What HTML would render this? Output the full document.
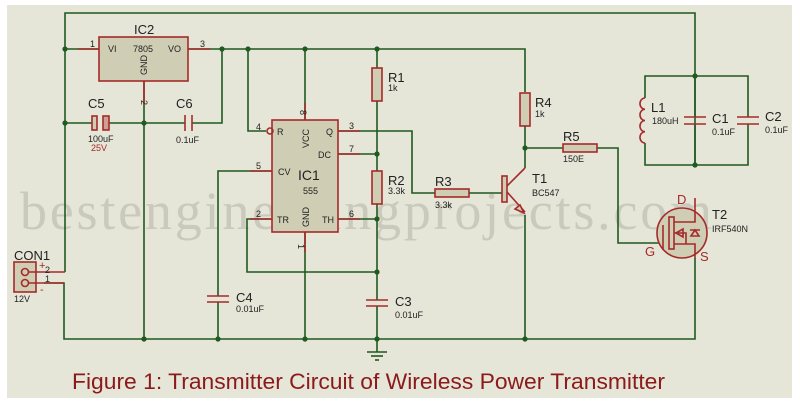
<!DOCTYPE html>
<html><head><meta charset="utf-8"><style>
html,body{margin:0;padding:0;background:#fff;}
svg{display:block;}
text{font-family:"Liberation Sans",sans-serif;}
</style></head><body>
<svg width="800" height="410" viewBox="0 0 800 410" xmlns="http://www.w3.org/2000/svg">
<rect x="7" y="5" width="785" height="393" fill="#e5e5d8"/>
<text x="20" y="229" font-size="54" fill="#c9c9bc" style="font-family:'Liberation Serif',serif" textLength="692" lengthAdjust="spacing">bestengineeringprojects.com</text>
<g stroke="#1f5a1f" stroke-width="1.6" fill="none">
<polyline points="65,272 65,13 695,13 695,165"/>
<polyline points="44,283 64,283 64,339 695,339 695,258"/>
<line x1="65" y1="49" x2="99" y2="49"/>
<polyline points="188,49 525,49 525,92"/>
<line x1="144" y1="81" x2="144" y2="339"/>
<line x1="65" y1="123" x2="92" y2="123"/>
<line x1="109" y1="123" x2="185" y2="123"/>
<polyline points="192,123 222,123 222,49"/>
<polyline points="248,49 248,131 266,131"/>
<line x1="305" y1="49" x2="305" y2="120"/>
<line x1="377" y1="49" x2="377" y2="68"/>
<line x1="377" y1="101" x2="377" y2="171"/>
<line x1="377" y1="204" x2="377" y2="300"/>
<line x1="377" y1="306" x2="377" y2="339"/>
<line x1="338" y1="154" x2="377" y2="154"/>
<line x1="338" y1="219" x2="377" y2="219"/>
<polyline points="338,131 412,131 412,193 435,193"/>
<line x1="469" y1="193" x2="502" y2="193"/>
<polyline points="272,219 247,219 247,272 377,272"/>
<polyline points="272,171 218,171 218,296"/>
<line x1="218" y1="302" x2="218" y2="339"/>
<line x1="305" y1="232" x2="305" y2="339"/>
<line x1="525" y1="126" x2="525" y2="168"/>
<line x1="525" y1="148" x2="563" y2="148"/>
<polyline points="597,148 618,148 618,243 662,243"/>
<line x1="525" y1="215" x2="525" y2="339"/>
<polyline points="645,98 645,76 748,76 748,117"/>
<polyline points="645,143 645,165 748,165 748,124"/>
<line x1="695" y1="76" x2="695" y2="117"/>
<line x1="695" y1="124" x2="695" y2="165"/>
<line x1="377" y1="339" x2="377" y2="352"/>
</g>
<g fill="#1f5a1f">
<circle cx="65" cy="49" r="2.6"/><circle cx="222" cy="49" r="2.6"/><circle cx="248" cy="49" r="2.6"/><circle cx="305" cy="49" r="2.6"/><circle cx="377" cy="49" r="2.6"/>
<circle cx="65" cy="123" r="2.6"/><circle cx="144" cy="123" r="2.6"/><circle cx="377" cy="154" r="2.6"/><circle cx="377" cy="219" r="2.6"/><circle cx="377" cy="272" r="2.6"/>
<circle cx="144" cy="339" r="2.6"/><circle cx="218" cy="339" r="2.6"/><circle cx="305" cy="339" r="2.6"/><circle cx="377" cy="339" r="2.6"/><circle cx="525" cy="339" r="2.6"/>
<circle cx="525" cy="148" r="2.6"/><circle cx="695" cy="76" r="2.6"/><circle cx="695" cy="165" r="2.6"/>
</g>
<g stroke="#a52a2a" stroke-width="1.6" fill="#cfceb4">
<rect x="99" y="37" width="89" height="44"/>
<rect x="272" y="120" width="66" height="112"/>
<rect x="372" y="68" width="10" height="33"/>
<rect x="372" y="171" width="10" height="33"/>
<rect x="520" y="93" width="10" height="33"/>
<rect x="435" y="189" width="34" height="8"/>
<rect x="563" y="144" width="34" height="8"/>
<rect x="92" y="116" width="5" height="14"/>
<rect x="103" y="116" width="6" height="14" fill="#cfa090"/>
<rect x="14" y="262" width="22" height="30"/>
</g>
<g stroke="#a52a2a" stroke-width="1.6" fill="none">
<line x1="78" y1="49" x2="99" y2="49"/><line x1="188" y1="49" x2="210" y2="49"/>
<line x1="144" y1="81" x2="144" y2="104"/>
<line x1="185" y1="115" x2="185" y2="131"/><line x1="192" y1="115" x2="192" y2="131"/>
<line x1="207" y1="296" x2="229" y2="296"/><line x1="207" y1="302" x2="229" y2="302"/>
<line x1="366" y1="300" x2="388" y2="300"/><line x1="366" y1="306" x2="388" y2="306"/>
<line x1="684" y1="117" x2="706" y2="117"/><line x1="684" y1="124" x2="706" y2="124"/>
<line x1="737" y1="117" x2="759" y2="117"/><line x1="737" y1="124" x2="759" y2="124"/>
<circle cx="270" cy="131" r="3"/>
<line x1="305" y1="103" x2="305" y2="120"/>
<line x1="338" y1="131" x2="360" y2="131"/><line x1="338" y1="154" x2="360" y2="154"/><line x1="338" y1="219" x2="360" y2="219"/>
<line x1="250" y1="171" x2="272" y2="171"/><line x1="250" y1="219" x2="272" y2="219"/>
<line x1="305" y1="232" x2="305" y2="252"/>
<path d="M645,98 a5,5.6 0 0 0 0,11.25 a5,5.6 0 0 0 0,11.25 a5,5.6 0 0 0 0,11.25 a5,5.6 0 0 0 0,11.25"/>
<rect x="502" y="176" width="5" height="26" fill="#cfceb4"/>
<line x1="507" y1="186" x2="525" y2="168"/>
<line x1="507" y1="192" x2="525" y2="212"/>
<path d="M515,209 l9,4 -4,-8 z" fill="#cfceb4"/>
<circle cx="682" cy="233" r="25" fill="#cfceb4"/>
<line x1="663" y1="225" x2="663" y2="250"/>
<rect x="669" y="217" width="5" height="32" fill="#cfceb4"/>
<polyline points="674,222 695,222 695,198"/>
<polyline points="674,244 695,244 695,258"/>
<polyline points="674,233 686,233 686,244"/>
<path d="M676,233 l7,-4 v8 z"/>
<path d="M695,230 l-4,6 h8 z M690,230 h10"/>
<circle cx="25" cy="272" r="3.5"/><circle cx="25" cy="283" r="3.5"/>
<line x1="28" y1="272" x2="65" y2="272"/><line x1="28" y1="283" x2="64" y2="283"/>
</g>
<g stroke="#1f5a1f" stroke-width="1.6">
<line x1="367" y1="352" x2="387" y2="352"/><line x1="371" y1="356" x2="383" y2="356"/><line x1="375" y1="360" x2="379" y2="360"/>
</g>
<g fill="#222" font-size="9">
<text x="90" y="47">1</text><text x="200" y="47">3</text>
<text x="108" y="52">VI</text><text x="133" y="52">7805</text><text x="168" y="52">VO</text>
<text x="147" y="75" transform="rotate(-90 147 75)">GND</text>
<text x="141" y="100" transform="rotate(90 141 100)">2</text>
<text x="300" y="110" transform="rotate(90 300 110)">8</text>
<text x="256" y="130">4</text><text x="277" y="135">R</text>
<text x="309" y="148" transform="rotate(-90 309 148)">VCC</text>
<text x="326" y="135">Q</text><text x="349" y="129">3</text>
<text x="318" y="158">DC</text><text x="349" y="152">7</text>
<text x="256" y="169">5</text><text x="278" y="175">CV</text>
<text x="256" y="217">2</text><text x="277" y="223">TR</text>
<text x="309" y="227" transform="rotate(-90 309 227)">GND</text>
<text x="322" y="223">TH</text><text x="349" y="217">6</text>
<text x="298" y="244" transform="rotate(90 298 244)">1</text>
<text x="303" y="194">555</text>
<text x="388" y="91">1k</text><text x="388" y="194">3.3k</text><text x="535" y="117">1k</text>
<text x="435" y="208">3.3k</text><text x="563" y="162">150E</text>
<text x="532" y="196">BC547</text><text x="712" y="232">IRF540N</text>
<text x="652" y="124">180uH</text><text x="712" y="135">0.1uF</text><text x="765" y="133">0.1uF</text>
<text x="88" y="142">100uF</text><text x="176" y="143">0.1uF</text>
<text x="236" y="312">0.01uF</text><text x="395" y="318">0.01uF</text>
<text x="14" y="302">12V</text><text x="45" y="273">2</text><text x="45" y="282">1</text>
</g>
<text x="91" y="151" font-size="9" fill="#a52a2a">25V</text>
<g fill="#222" font-size="13">
<text x="134" y="34">IC2</text><text x="88" y="108">C5</text><text x="176" y="108">C6</text>
<text x="298" y="180" font-size="14">IC1</text>
<text x="388" y="82">R1</text><text x="388" y="185">R2</text><text x="535" y="107">R4</text>
<text x="435" y="186">R3</text><text x="563" y="141">R5</text><text x="532" y="183">T1</text>
<text x="651" y="112">L1</text><text x="712" y="123">C1</text><text x="765" y="121">C2</text>
<text x="712" y="219">T2</text><text x="236" y="302">C4</text><text x="395" y="306">C3</text>
<text x="14" y="260">CON1</text>
</g>
<g fill="#a52a2a" font-size="13">
<text x="677" y="204">D</text><text x="700" y="261">S</text><text x="645" y="256">G</text>
<text x="39" y="269" font-size="11">+</text><text x="40" y="293" font-size="11">-</text>
</g>
<text x="72" y="389" font-size="22" fill="#8b1a1a" textLength="593" lengthAdjust="spacingAndGlyphs">Figure 1: Transmitter Circuit of Wireless Power Transmitter</text>
</svg>
</body></html>
